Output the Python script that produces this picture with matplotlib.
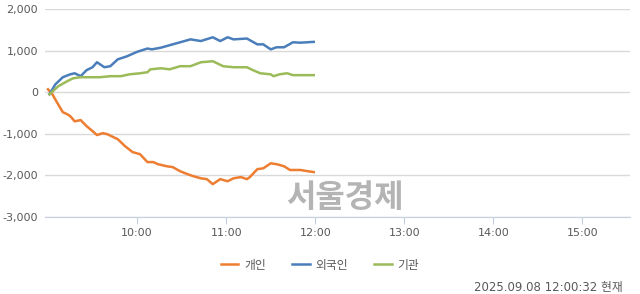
import matplotlib
matplotlib.use("Agg")
import matplotlib.pyplot as plt

# intraday net buying (억원)
blue_times = ["09:01", "09:05", "09:10", "09:15", "09:18", "09:22", "09:26", "09:30",
              "09:33", "09:38", "09:42", "09:47", "09:53", "10:00", "10:07", "10:10",
              "10:16", "10:22", "10:29", "10:36", "10:43", "10:51", "10:56", "11:01",
              "11:05", "11:14", "11:21", "11:25", "11:30", "11:34", "11:39", "11:45",
              "11:50", "11:59"]
blue_vals = [-50, 190, 360, 430, 455, 385, 530, 600, 720, 600, 625, 790, 860, 970,
             1050, 1030, 1070, 1130, 1200, 1270, 1230, 1320, 1230, 1320, 1270, 1290,
             1150, 1150, 1030, 1080, 1080, 1200, 1190, 1210]

green_times = ["09:01", "09:07", "09:13", "09:17", "09:22", "09:28", "09:35", "09:42",
               "09:49", "09:55", "10:02", "10:07", "10:09", "10:16", "10:22", "10:29",
               "10:36", "10:43", "10:51", "10:58", "11:05", "11:14", "11:18", "11:23",
               "11:30", "11:32", "11:36", "11:41", "11:45", "11:59"]
green_vals = [-50, 145, 265, 335, 360, 360, 360, 385, 385, 430, 455, 480, 550, 575,
              550, 625, 625, 720, 745, 625, 600, 600, 530, 455, 430, 385, 430, 455,
              410, 410]

orange_times = ["09:00", "09:03", "09:06", "09:10", "09:13", "09:15", "09:18", "09:22",
                "09:26", "09:30", "09:33", "09:37", "09:40", "09:47", "09:52", "09:57",
                "10:02", "10:07", "10:11", "10:14", "10:20", "10:24", "10:29", "10:34",
                "10:38", "10:43", "10:47", "10:51", "10:56", "11:01", "11:05", "11:10",
                "11:14", "11:16", "11:21", "11:25", "11:30", "11:34", "11:39", "11:43",
                "11:50", "11:55", "11:59"]
orange_vals = [70, -50, -240, -480, -530, -575, -700, -670, -815, -935, -1030, -985,
               -1010, -1130, -1300, -1440, -1490, -1680, -1680, -1730, -1780, -1800,
               -1900, -1970, -2020, -2070, -2090, -2210, -2090, -2140, -2070, -2040,
               -2090, -2040, -1850, -1830, -1710, -1730, -1780, -1870, -1870, -1900,
               -1920]

hour_ticks = ["10:00", "11:00", "12:00", "13:00", "14:00", "15:00"]
y_ticks = [2000, 1000, 0, -1000, -2000, -3000]


def to_min(t):
    h, m = t.split(":")
    return (int(h) - 9) * 60 + int(m)


plt.rcParams["font.family"] = ["DejaVu Sans", "Noto Sans CJK KR"]

fig = plt.figure(figsize=(6.4, 2.94), dpi=100)
ax = fig.add_axes([45 / 640, 1 - 217 / 294, 585 / 640, 208 / 294])

ax.plot([to_min(t) for t in orange_times], orange_vals, color="#ED7D31", lw=1.8, label="개인")
ax.plot([to_min(t) for t in blue_times], blue_vals, color="#4A7EBB", lw=1.8, label="외국인")
ax.plot([to_min(t) for t in green_times], green_vals, color="#9BBB59", lw=1.8, label="기관")

ax.set_xlim(-2, 392)
ax.set_ylim(-3000, 2000)
ax.set_yticks(y_ticks)
ax.set_yticklabels([f"{v:,}" for v in y_ticks])
ax.set_xticks([to_min(t) for t in hour_ticks])
ax.set_xticklabels(hour_ticks)
ax.grid(axis="y", color="#d9d9d9", lw=1)
ax.set_axisbelow(True)
for s in ["top", "right", "left"]:
    ax.spines[s].set_visible(False)
ax.spines["bottom"].set_color("#c5cfe0")
ax.tick_params(axis="y", length=0, pad=5, labelsize=8, labelcolor="#595959")
ax.tick_params(axis="x", length=5, color="#c5cfe0", pad=3, labelsize=8, labelcolor="#595959")

# watermark
fig.text(345 / 640, 1 - 198 / 294, "서울경제", fontsize=23, fontweight="bold",
         color="#b4b4b4", ha="center", va="center", family="Noto Sans CJK KR")

fig.legend(loc="center", bbox_to_anchor=(0.5, 1 - 265 / 294), ncol=3, frameon=False,
           handlelength=1.5, columnspacing=2.2, handletextpad=0.5,
           prop={"family": "Noto Sans CJK KR", "size": 8.5}, labelcolor="#595959")

fig.text(623 / 640, 1 - 287 / 294, "2025.09.08 12:00:32 현재", fontsize=8.5,
         color="#595959", ha="right", va="center",
         family=["DejaVu Sans", "Noto Sans CJK KR"])

fig.savefig("out.png", dpi=100)
